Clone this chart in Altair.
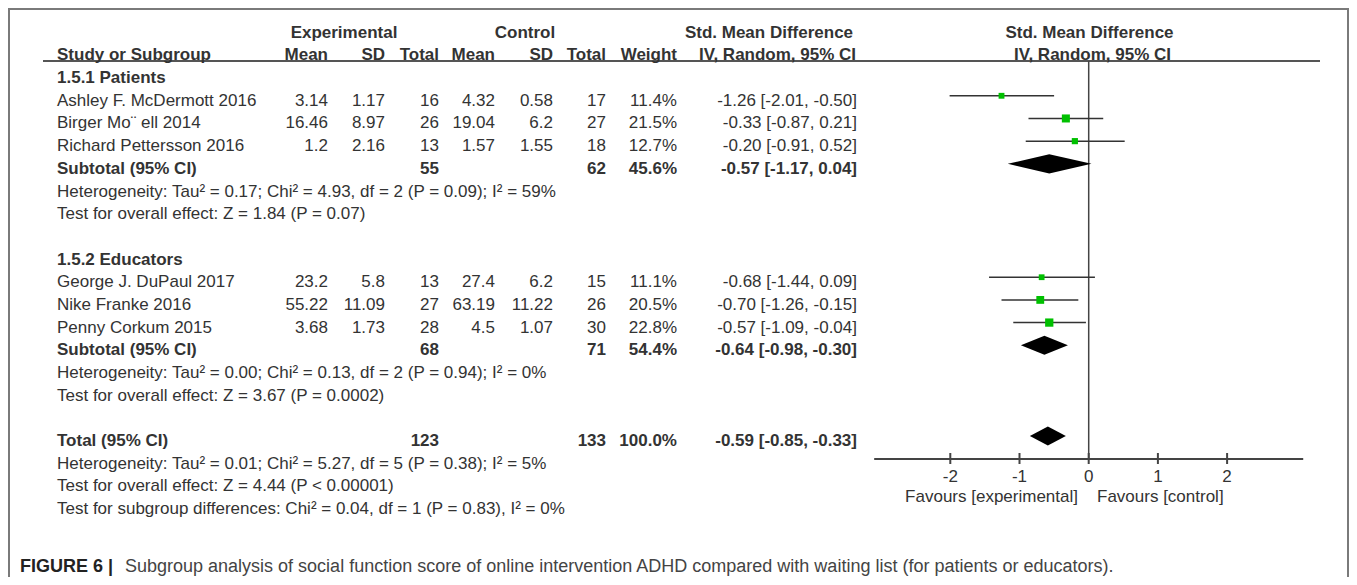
import altair as alt
import pandas as pd

# ---------------- data ----------------
studies = ["Ashley F. McDermott 2016", "Birger Mo\u00a8 ell 2014", "Richard Pettersson 2016",
           "George J. DuPaul 2017", "Nike Franke 2016", "Penny Corkum 2015"]
exp_mean = [3.14, 16.46, 1.2, 23.2, 55.22, 3.68]
exp_sd = [1.17, 8.97, 2.16, 5.8, 11.09, 1.73]
exp_n = [16, 26, 13, 13, 27, 28]
ctl_mean = [4.32, 19.04, 1.57, 27.4, 63.19, 4.5]
ctl_sd = [0.58, 6.2, 1.55, 6.2, 11.22, 1.07]
ctl_n = [17, 27, 18, 15, 26, 30]
weight = [11.4, 21.5, 12.7, 11.1, 20.5, 22.8]
smd = [-1.26, -0.33, -0.20, -0.68, -0.70, -0.57]
smd_lo = [-2.01, -0.87, -0.91, -1.44, -1.26, -1.09]
smd_hi = [-0.50, 0.21, 0.52, 0.09, -0.15, -0.04]

groups = ["1.5.1 Patients", "1.5.2 Educators"]
pooled_label = ["Subtotal (95% CI)", "Subtotal (95% CI)", "Total (95% CI)"]
pooled_exp_n = [55, 68, 123]
pooled_ctl_n = [62, 71, 133]
pooled_weight = [45.6, 54.4, 100.0]
pooled_smd = [-0.57, -0.64, -0.59]
pooled_lo = [-1.17, -0.98, -0.85]
pooled_hi = [0.04, -0.30, -0.33]

heterogeneity = [
    "Heterogeneity: Tau\u00b2 = 0.17; Chi\u00b2 = 4.93, df = 2 (P = 0.09); I\u00b2 = 59%",
    "Heterogeneity: Tau\u00b2 = 0.00; Chi\u00b2 = 0.13, df = 2 (P = 0.94); I\u00b2 = 0%",
    "Heterogeneity: Tau\u00b2 = 0.01; Chi\u00b2 = 5.27, df = 5 (P = 0.38); I\u00b2 = 5%",
]
overall = [
    "Test for overall effect: Z = 1.84 (P = 0.07)",
    "Test for overall effect: Z = 3.67 (P = 0.0002)",
    "Test for overall effect: Z = 4.44 (P < 0.00001)",
]
subgroup_diff = "Test for subgroup differences: Chi\u00b2 = 0.04, df = 1 (P = 0.83), I\u00b2 = 0%"

axis_ticks = [-2, -1, 0, 1, 2]
axis_range = [-3.1, 3.1]
favours = ["Favours [experimental]", "Favours [control]"]
caption_bold = "FIGURE 6 |"
caption_text = ("Subgroup analysis of social function score of online intervention ADHD "
                "compared with waiting list (for patients or educators).")

# ---------------- build tables ----------------
def fmt(v):
    return str(v)

cells = []  # row, col, text, bold
def add(row, col, text, bold=False):
    cells.append(dict(row=row, col=col, text=text, bold=bold))

# headers
add(-2, "h_exp", "Experimental", True)
add(-2, "h_ctl", "Control", True)
add(-2, "h_smd", "Std. Mean Difference", True)
add(-2, "h_fp", "Std. Mean Difference", True)
add(-1, "study", "Study or Subgroup", True)
add(-1, "em", "Mean", True)
add(-1, "esd", "SD", True)
add(-1, "en", "Total", True)
add(-1, "cm", "Mean", True)
add(-1, "csd", "SD", True)
add(-1, "cn", "Total", True)
add(-1, "w", "Weight", True)
add(-1, "h_smd2", "IV, Random, 95% CI", True)
add(-1, "h_fp2", "IV, Random, 95% CI", True)

study_rows = []
pooled_rows = []
row = 0
for g in range(2):
    add(row, "study", groups[g], True)
    row += 1
    for i in range(g * 3, g * 3 + 3):
        add(row, "study", studies[i])
        add(row, "em", fmt(exp_mean[i]))
        add(row, "esd", fmt(exp_sd[i]))
        add(row, "en", fmt(exp_n[i]))
        add(row, "cm", fmt(ctl_mean[i]))
        add(row, "csd", fmt(ctl_sd[i]))
        add(row, "cn", fmt(ctl_n[i]))
        add(row, "w", f"{weight[i]:.1f}%")
        add(row, "ci", f"{smd[i]:.2f} [{smd_lo[i]:.2f}, {smd_hi[i]:.2f}]")
        study_rows.append(row)
        row += 1
    pooled_rows.append(row)
    row += 1
    add(row, "study", heterogeneity[g]); row += 1
    add(row, "study", overall[g]); row += 2
pooled_rows.append(row)
row += 1
add(row, "study", heterogeneity[2]); row += 1
add(row, "study", overall[2]); row += 1
add(row, "study", subgroup_diff)

for k, r in enumerate(pooled_rows):
    add(r, "study", pooled_label[k], True)
    add(r, "en", fmt(pooled_exp_n[k]), True)
    add(r, "cn", fmt(pooled_ctl_n[k]), True)
    add(r, "w", f"{pooled_weight[k]:.1f}%", True)
    add(r, "ci", f"{pooled_smd[k]:.2f} [{pooled_lo[k]:.2f}, {pooled_hi[k]:.2f}]", True)

cells_df = pd.DataFrame(cells)

study_df = pd.DataFrame(dict(row=study_rows, smd=smd, lo=smd_lo, hi=smd_hi, w=weight))

HALF = 0.423
dia = []
for k, r in enumerate(pooled_rows):
    dia.append(dict(id=k, x=pooled_lo[k], y=r, y2=r))
    dia.append(dict(id=k, x=pooled_smd[k], y=r - HALF, y2=r + HALF))
    dia.append(dict(id=k, x=pooled_hi[k], y=r, y2=r))
dia_df = pd.DataFrame(dia)

tick_df = pd.DataFrame(dict(t=axis_ticks, lab=[str(t) for t in axis_ticks]))
axis_df = pd.DataFrame(dict(a=[axis_range[0]], b=[axis_range[1]]))
zero_df = pd.DataFrame(dict(z=[0]))

# ---------------- layout ----------------
W, H = 1341, 569
FONT = "Liberation Sans"
TC = "#333333"
FS = 17
TEXT_DY = 5

ROW0, STEP = 65.1, 22.68
ys = alt.Scale(domain=[-ROW0 / STEP, (H - ROW0) / STEP], reverse=True)
X0, UNIT = 1080.7, 69.2
xs = alt.Scale(domain=[-X0 / UNIT, (W - X0) / UNIT])

col_pos = {
    "study": (49, "left"), "em": (320, "right"), "esd": (377, "right"), "en": (431, "right"),
    "cm": (487, "right"), "csd": (545, "right"), "cn": (598, "right"), "w": (669, "right"),
    "ci": (849, "right"), "h_exp": (336, "center"), "h_ctl": (517, "center"),
    "h_smd": (761, "center"), "h_smd2": (769.5, "center"), "h_fp": (1081.5, "center"),
    "h_fp2": (1084.5, "center"),
}

layers = []
for col, (px, al) in col_pos.items():
    for b in (False, True):
        sub = cells_df[(cells_df.col == col) & (cells_df.bold == b)]
        if len(sub) == 0:
            continue
        layers.append(
            alt.Chart(sub).mark_text(align=al, baseline="middle", font=FONT, fontSize=FS, dy=TEXT_DY,
                                     fontWeight="bold" if b else "normal", color=TC)
            .encode(x=alt.value(px), y=alt.Y("row:Q", scale=ys, axis=None), text="text:N")
        )

frame = alt.Chart(zero_df).mark_rect(fillOpacity=0, stroke="#7a7a7a", strokeWidth=2).encode(
    x=alt.value(1), x2=alt.value(W - 1), y=alt.value(1), y2=alt.value(H + 40))

underline = alt.Chart(zero_df).mark_rule(color="#555555", strokeWidth=2).encode(
    x=alt.value(35), x2=alt.value(1312), y=alt.value(53))

zero_line = alt.Chart(zero_df).mark_rule(color="#444444", strokeWidth=1.5).encode(
    x=alt.X("z:Q", scale=xs, axis=None), y=alt.value(53), y2=alt.value(451))

ci_lines = alt.Chart(study_df).mark_rule(color="#333333", strokeWidth=1.5).encode(
    x=alt.X("lo:Q", scale=xs, axis=None), x2="hi:Q", y=alt.Y("row:Q", scale=ys, axis=None))

squares = alt.Chart(study_df).mark_square(filled=True, color="#00c000", opacity=1).encode(
    x=alt.X("smd:Q", scale=xs, axis=None), y=alt.Y("row:Q", scale=ys, axis=None),
    size=alt.Size("w:Q", scale=alt.Scale(domain=[0, 25], range=[0, 75]), legend=None))

diamonds = alt.Chart(dia_df).mark_area(color="black", orient="vertical", opacity=1).encode(
    x=alt.X("x:Q", scale=xs, axis=None), y=alt.Y("y:Q", scale=ys, axis=None, stack=None),
    y2="y2:Q", detail="id:N")

axis_line = alt.Chart(axis_df).mark_rule(color="#444444", strokeWidth=2).encode(
    x=alt.X("a:Q", scale=xs, axis=None), x2="b:Q", y=alt.value(451))

tick_marks = alt.Chart(tick_df).mark_rule(color="#444444", strokeWidth=2).encode(
    x=alt.X("t:Q", scale=xs, axis=None), y=alt.value(445), y2=alt.value(456))

tick_labels = alt.Chart(tick_df).mark_text(font=FONT, fontSize=FS, color=TC, baseline="middle").encode(
    x=alt.X("t:Q", scale=xs, axis=None), y=alt.value(469), text="lab:N")

fav_df = pd.DataFrame(dict(t=favours))
fav_left = alt.Chart(fav_df.iloc[[0]]).mark_text(font=FONT, fontSize=FS, color=TC, align="right",
                                                 baseline="middle").encode(
    x=alt.value(1070), y=alt.value(489), text="t:N")
fav_right = alt.Chart(fav_df.iloc[[1]]).mark_text(font=FONT, fontSize=FS, color=TC, align="left",
                                                  baseline="middle").encode(
    x=alt.value(1089), y=alt.value(489), text="t:N")

cap_df = pd.DataFrame(dict(a=[caption_bold], b=[caption_text]))
cap1 = alt.Chart(cap_df).mark_text(font=FONT, fontSize=18, fontWeight="bold", color="#222222",
                                   align="left", baseline="middle").encode(
    x=alt.value(12), y=alt.value(559), text="a:N")
cap2 = alt.Chart(cap_df).mark_text(font=FONT, fontSize=18, color="#444444",
                                   align="left", baseline="middle").encode(
    x=alt.value(117), y=alt.value(559), text="b:N")

chart = alt.layer(
    frame, underline, zero_line, ci_lines, squares, diamonds, axis_line, tick_marks, tick_labels,
    fav_left, fav_right, cap1, cap2, *layers
).properties(width=W, height=H, padding=0, autosize="none", background="white"
).configure_view(stroke=None)

chart.save("out.html", embed_options={"renderer": "svg", "actions": False})
